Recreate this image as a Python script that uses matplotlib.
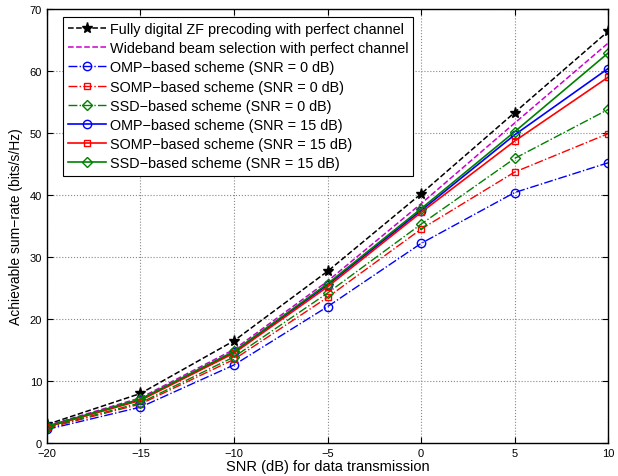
import matplotlib
matplotlib.use('Agg')
import matplotlib.pyplot as plt

plt.rcParams['font.family'] = ['Liberation Sans', 'DejaVu Sans']

# Achievable sum-rate vs. SNR for data transmission
snr = [-20, -15, -10, -5, 0, 5, 10]

fully_digital = [3.0, 8.0, 16.5, 27.7, 40.2, 53.3, 66.4]
wideband = [2.8, 7.3, 15.1, 26.1, 38.6, 51.6, 64.5]
omp_0 = [2.2, 5.8, 12.6, 22.0, 32.2, 40.4, 45.2]
somp_0 = [2.4, 6.3, 13.5, 23.5, 34.5, 43.7, 49.9]
ssd_0 = [2.5, 6.5, 13.9, 24.2, 35.3, 45.9, 53.8]
omp_15 = [2.7, 7.0, 14.7, 25.5, 37.5, 49.7, 60.4]
somp_15 = [2.6, 6.9, 14.5, 25.2, 37.2, 48.7, 59.0]
ssd_15 = [2.7, 7.1, 14.8, 25.7, 37.8, 50.2, 62.9]

labels = [
    'Fully digital ZF precoding with perfect channel',
    'Wideband beam selection with perfect channel',
    'OMP\u2212based scheme (SNR = 0 dB)',
    'SOMP\u2212based scheme (SNR = 0 dB)',
    'SSD\u2212based scheme (SNR = 0 dB)',
    'OMP\u2212based scheme (SNR = 15 dB)',
    'SOMP\u2212based scheme (SNR = 15 dB)',
    'SSD\u2212based scheme (SNR = 15 dB)',
]

green = '#008000'
magenta = '#cc00cc'

fig = plt.figure(figsize=(6.18, 4.77), dpi=100)
ax = fig.add_axes([0.076, 0.069, 0.908, 0.91])

ms = 6
ax.plot(snr, fully_digital, 'k--', marker='*', ms=8, lw=1.1, label=labels[0])
ax.plot(snr, wideband, '--', color=magenta, lw=1.1, label=labels[1])
ax.plot(snr, omp_0, '-.', color='b', marker='o', mfc='none', ms=ms, lw=1, label=labels[2])
ax.plot(snr, somp_0, '-.', color='r', marker='s', mfc='none', ms=5, lw=1, label=labels[3])
ax.plot(snr, ssd_0, '-.', color=green, marker='D', mfc='none', ms=5, lw=1, label=labels[4])
ax.plot(snr, omp_15, '-', color='b', marker='o', mfc='none', ms=ms, lw=1.2, label=labels[5])
ax.plot(snr, somp_15, '-', color='r', marker='s', mfc='none', ms=5, lw=1.2, label=labels[6])
ax.plot(snr, ssd_15, '-', color=green, marker='D', mfc='none', ms=5, lw=1.2, label=labels[7])

ax.set_xlim(-20, 10)
ax.set_ylim(0, 70)
ax.set_xticks(snr)
ax.set_xticklabels(['\u221220', '\u221215', '\u221210', '\u22125', '0', '5', '10'])
ax.set_yticks(range(0, 71, 10))
ax.tick_params(direction='in', labelsize=8, top=True, right=True, length=4)
ax.grid(True, linestyle=':', color='#888888', linewidth=0.8)
for s in ax.spines.values():
    s.set_linewidth(1.0)

ax.set_xlabel('SNR (dB) for data transmission', fontsize=10.5, labelpad=1)
ax.set_ylabel('Achievable sum\u2212rate (bits/s/Hz)', fontsize=10, labelpad=5)

leg = ax.legend(loc='upper left', bbox_to_anchor=(0.0285, 0.9816), borderaxespad=0,
                fontsize=10.4, frameon=True, fancybox=False,
                edgecolor='k', framealpha=1, borderpad=0.35, labelspacing=0.36,
                handlelength=2.6, handletextpad=0.3)
leg.get_frame().set_linewidth(0.8)

fig.savefig('out.png', dpi=100)
